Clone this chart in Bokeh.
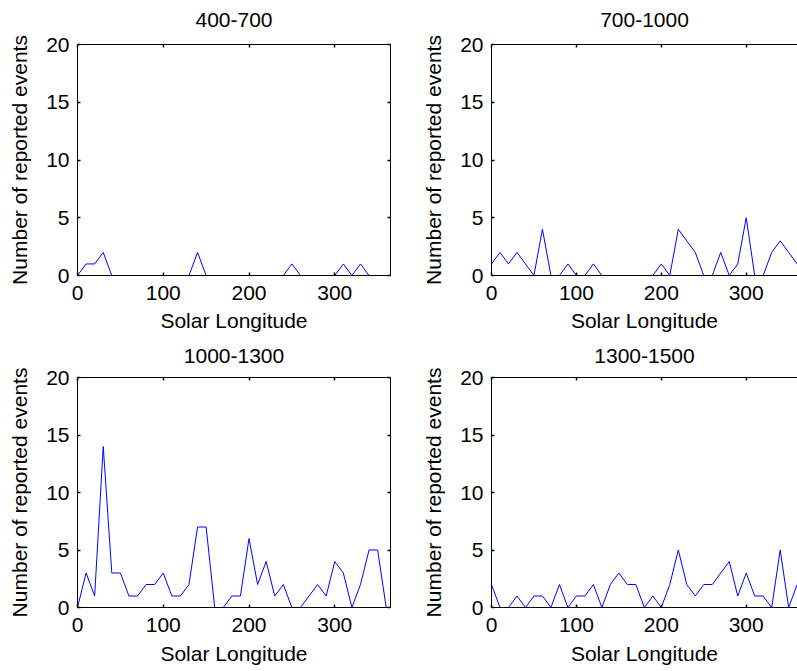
from bokeh.plotting import figure
from bokeh.models import LinearAxis, FixedTicker, Range1d
from bokeh.layouts import column, row
from bokeh.embed import file_html
from bokeh.resources import INLINE

solar_longitude = [0, 10, 20, 30, 40, 50, 60, 70, 80, 90, 100, 110, 120, 130, 140, 150, 160, 170, 180,
                   190, 200, 210, 220, 230, 240, 250, 260, 270, 280, 290, 300, 310, 320, 330, 340, 350, 360]

events_400_700 = [0, 1, 1, 2, 0, 0, 0, 0, 0, 0, 0, 0, 0, 0, 2, 0, 0, 0, 0,
                  0, 0, 0, 0, 0, 0, 1, 0, 0, 0, 0, 0, 1, 0, 1, 0, 0, 0]
events_700_1000 = [1, 2, 1, 2, 1, 0, 4, 0, 0, 1, 0, 0, 1, 0, 0, 0, 0, 0, 0,
                   0, 1, 0, 4, 3, 2, 0, 0, 2, 0, 1, 5, 0, 0, 2, 3, 2, 1]
events_1000_1300 = [0, 3, 1, 14, 3, 3, 1, 1, 2, 2, 3, 1, 1, 2, 7, 7, 0, 0, 1,
                    1, 6, 2, 4, 1, 2, 0, 0, 1, 2, 1, 4, 3, 0, 2, 5, 5, 0]
events_1300_1500 = [2, 0, 0, 1, 0, 1, 1, 0, 2, 0, 1, 1, 2, 0, 2, 3, 2, 2, 0,
                    1, 0, 2, 5, 2, 1, 2, 2, 3, 4, 1, 3, 1, 1, 0, 5, 0, 2]

titles = ["400-700", "700-1000", "1000-1300", "1300-1500"]
x_ticks = [0, 100, 200, 300]
y_ticks = [0, 5, 10, 15, 20]
x_label = "Solar Longitude"
y_label = "Number of reported events"

FONT = "Liberation Sans"
FS = "21px"


def style_axis(ax, labels=True, tick_standoff=8, label_standoff=6):
    ax.axis_line_color = "black"
    ax.axis_line_width = 1
    ax.major_tick_line_color = "black"
    ax.major_tick_line_width = 1.5
    ax.major_tick_in = 3
    ax.major_tick_out = 0
    ax.minor_tick_line_color = None
    ax.axis_label_text_font = FONT
    ax.axis_label_text_font_size = FS
    ax.axis_label_text_font_style = "normal"
    ax.axis_label_text_color = "black"
    ax.axis_label_standoff = label_standoff
    if labels:
        ax.major_label_text_font = FONT
        ax.major_label_text_font_size = FS
        ax.major_label_text_color = "black"
        ax.major_label_standoff = tick_standoff
    else:
        ax.major_label_text_color = None
        ax.major_label_text_alpha = 0
        ax.major_label_standoff = 0


def make_panel(values, title, left_col, top_row):
    if left_col:
        width = 419
        mb_left, mb_right = 77, 29
        x_end = 365
    else:
        width = 378
        mb_left, mb_right = 69, 0
        x_end = 360.4
    if top_row:
        height = 338
        mb_top, mb_bottom = 44, 63
        tstand, lstand, title_stand = 10, 6, 18
    else:
        height = 333
        mb_top, mb_bottom = 39, 64
        tstand, lstand, title_stand = 10, 7, 15

    p = figure(width=width, height=height, output_backend="svg", toolbar_location=None,
               x_range=Range1d(0, x_end), y_range=Range1d(0, 20),
               min_border_left=mb_left, min_border_right=mb_right,
               min_border_top=mb_top, min_border_bottom=mb_bottom,
               x_axis_location=None, y_axis_location=None)
    p.grid.visible = False
    p.outline_line_color = None
    p.background_fill_color = "white"
    p.border_fill_color = "white"

    bottom = LinearAxis(ticker=FixedTicker(ticks=x_ticks), axis_label=x_label)
    style_axis(bottom, True, tstand, lstand)
    p.add_layout(bottom, "below")

    left = LinearAxis(ticker=FixedTicker(ticks=y_ticks), axis_label=y_label)
    style_axis(left, True, 8, 12)
    p.add_layout(left, "left")

    # top axis closes the box and carries the panel title
    top = LinearAxis(ticker=FixedTicker(ticks=x_ticks), axis_label=title)
    style_axis(top, False, 0, title_stand)
    p.add_layout(top, "above")

    if left_col:
        right = LinearAxis(ticker=FixedTicker(ticks=y_ticks))
        style_axis(right, False, 0, 0)
        p.add_layout(right, "right")

    p.line(solar_longitude, values, line_color="#0000ff", line_width=1)
    return p


p1 = make_panel(events_400_700, titles[0], True, True)
p2 = make_panel(events_700_1000, titles[1], False, True)
p3 = make_panel(events_1000_1300, titles[2], True, False)
p4 = make_panel(events_1300_1500, titles[3], False, False)

layout = column(row(p1, p2, spacing=0), row(p3, p4, spacing=0), spacing=0)

open("out.html", "w").write(file_html(layout, INLINE))
